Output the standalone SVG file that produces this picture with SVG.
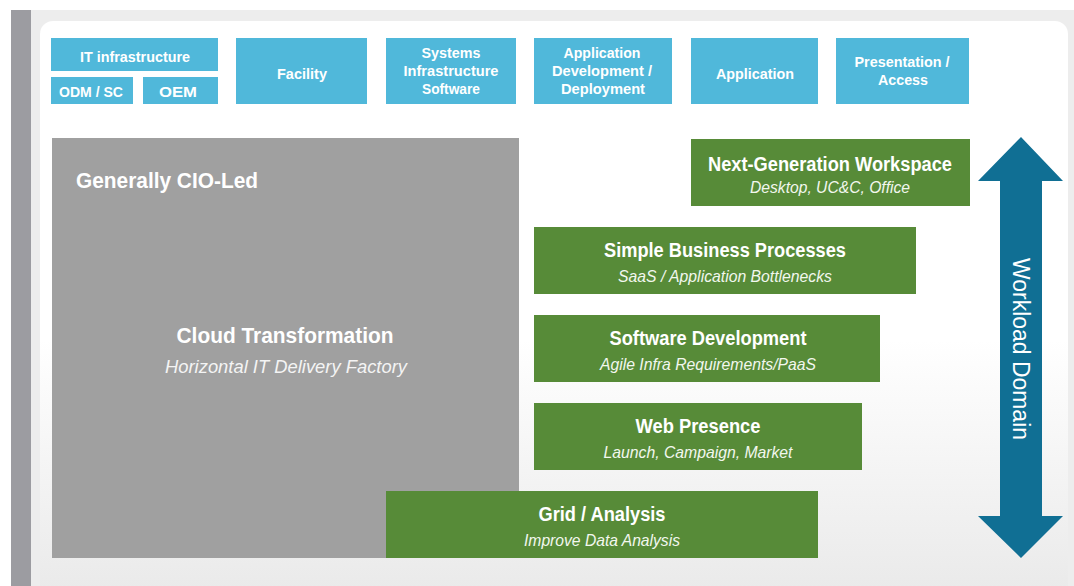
<svg xmlns="http://www.w3.org/2000/svg" width="1074" height="586" viewBox="0 0 1074 586">
  <defs>
    <linearGradient id="panelGrad" x1="0" y1="0" x2="0" y2="1">
      <stop offset="0" stop-color="#ffffff"/>
      <stop offset="0.55" stop-color="#ffffff"/>
      <stop offset="1" stop-color="#e9e9e9"/>
    </linearGradient>
  </defs>
  <style>
    .blue { fill: #50b8da; }
    .green { fill: #578b38; }
    .t { font-family: "Liberation Sans", Arial, sans-serif; fill: #ffffff; text-anchor: middle; }
    .top { font-size: 15.5px; font-weight: bold; }
    .title { font-size: 20px; font-weight: bold; }
    .sub { font-size: 16.5px; font-style: italic; fill: #f2f7ee; }
  </style>

  <!-- background -->
  <rect x="0" y="0" width="1074" height="586" fill="#ffffff"/>
  <rect x="11" y="10" width="1063" height="576" fill="#ededed"/>
  <rect x="11" y="10" width="20" height="576" fill="#9c9ca1"/>
  <rect x="40" y="21" width="1028" height="580" rx="13" ry="13" fill="url(#panelGrad)"/>

  <!-- top row -->
  <g id="it-infrastructure">
    <rect class="blue" x="51" y="38" width="167" height="33"/>
    <text class="t top" x="135" y="62" textLength="110" lengthAdjust="spacingAndGlyphs">IT infrastructure</text>
  </g>
  <g id="odm-sc">
    <rect class="blue" x="51" y="77" width="82" height="27"/>
    <text class="t top" x="91" y="97" textLength="64" lengthAdjust="spacingAndGlyphs">ODM / SC</text>
  </g>
  <g id="oem">
    <rect class="blue" x="143" y="77" width="75" height="27"/>
    <text class="t top" x="178" y="97" textLength="38" lengthAdjust="spacingAndGlyphs">OEM</text>
  </g>
  <g id="facility">
    <rect class="blue" x="236" y="38" width="131" height="66"/>
    <text class="t top" x="302" y="79" textLength="50" lengthAdjust="spacingAndGlyphs">Facility</text>
  </g>
  <g id="systems-infrastructure-software">
    <rect class="blue" x="386" y="38" width="130" height="66"/>
    <text class="t top" x="451" y="58" textLength="59" lengthAdjust="spacingAndGlyphs">Systems</text>
    <text class="t top" x="451" y="76" textLength="95" lengthAdjust="spacingAndGlyphs">Infrastructure</text>
    <text class="t top" x="451" y="94" textLength="58" lengthAdjust="spacingAndGlyphs">Software</text>
  </g>
  <g id="application-development-deployment">
    <rect class="blue" x="534" y="38" width="138" height="66"/>
    <text class="t top" x="602" y="58" textLength="77" lengthAdjust="spacingAndGlyphs">Application</text>
    <text class="t top" x="602" y="76" textLength="100" lengthAdjust="spacingAndGlyphs">Development /</text>
    <text class="t top" x="603" y="94" textLength="84" lengthAdjust="spacingAndGlyphs">Deployment</text>
  </g>
  <g id="application">
    <rect class="blue" x="691" y="38" width="127" height="66"/>
    <text class="t top" x="755" y="79" textLength="78" lengthAdjust="spacingAndGlyphs">Application</text>
  </g>
  <g id="presentation-access">
    <rect class="blue" x="836" y="38" width="133" height="66"/>
    <text class="t top" x="902" y="67" textLength="95" lengthAdjust="spacingAndGlyphs">Presentation /</text>
    <text class="t top" x="903" y="85" textLength="50" lengthAdjust="spacingAndGlyphs">Access</text>
  </g>

  <!-- CIO-led block -->
  <g id="cloud-transformation">
    <rect x="52" y="138" width="467" height="420" fill="#a0a0a0"/>
    <text class="t" x="76" y="188" style="text-anchor:start;font-size:22px;font-weight:bold" textLength="182" lengthAdjust="spacingAndGlyphs">Generally CIO-Led</text>
    <text class="t" x="285" y="343" style="font-size:22px;font-weight:bold" textLength="217" lengthAdjust="spacingAndGlyphs">Cloud Transformation</text>
    <text class="t" x="286" y="373" style="font-size:18px;font-style:italic;fill:#f4f4f4" textLength="242" lengthAdjust="spacingAndGlyphs">Horizontal IT Delivery Factory</text>
  </g>

  <!-- workloads -->
  <g id="next-generation-workspace">
    <rect class="green" x="691" y="139" width="279" height="67"/>
    <text class="t title" x="830" y="171" textLength="244" lengthAdjust="spacingAndGlyphs">Next-Generation Workspace</text>
    <text class="t sub" x="830" y="193" textLength="160" lengthAdjust="spacingAndGlyphs">Desktop, UC&amp;C, Office</text>
  </g>
  <g id="simple-business-processes">
    <rect class="green" x="534" y="227" width="382" height="67"/>
    <text class="t title" x="725" y="257" textLength="242" lengthAdjust="spacingAndGlyphs">Simple Business Processes</text>
    <text class="t sub" x="725" y="282" textLength="214" lengthAdjust="spacingAndGlyphs">SaaS / Application Bottlenecks</text>
  </g>
  <g id="software-development">
    <rect class="green" x="534" y="315" width="346" height="67"/>
    <text class="t title" x="708" y="345" textLength="197" lengthAdjust="spacingAndGlyphs">Software Development</text>
    <text class="t sub" x="708" y="370" textLength="216" lengthAdjust="spacingAndGlyphs">Agile Infra Requirements/PaaS</text>
  </g>
  <g id="web-presence">
    <rect class="green" x="534" y="403" width="328" height="67"/>
    <text class="t title" x="698" y="433" textLength="125" lengthAdjust="spacingAndGlyphs">Web Presence</text>
    <text class="t sub" x="698" y="458" textLength="189" lengthAdjust="spacingAndGlyphs">Launch, Campaign, Market</text>
  </g>
  <g id="grid-analysis">
    <rect class="green" x="386" y="491" width="432" height="67"/>
    <text class="t title" x="602" y="521" textLength="127" lengthAdjust="spacingAndGlyphs">Grid / Analysis</text>
    <text class="t sub" x="602" y="546" textLength="156" lengthAdjust="spacingAndGlyphs">Improve Data Analysis</text>
  </g>

  <!-- workload domain double arrow -->
  <g id="connectors">
    <polygon fill="#106f94" points="1021,137 1063,181 1042,181 1042,516 1063,516 1021,558 978,516 1000,516 1000,181 978,181"/>
  </g>
  <g id="workload-domain-label">
    <text class="t" x="0" y="0" transform="translate(1013,349) rotate(90)" style="font-size:23px" textLength="182" lengthAdjust="spacingAndGlyphs">Workload Domain</text>
  </g>
</svg>
